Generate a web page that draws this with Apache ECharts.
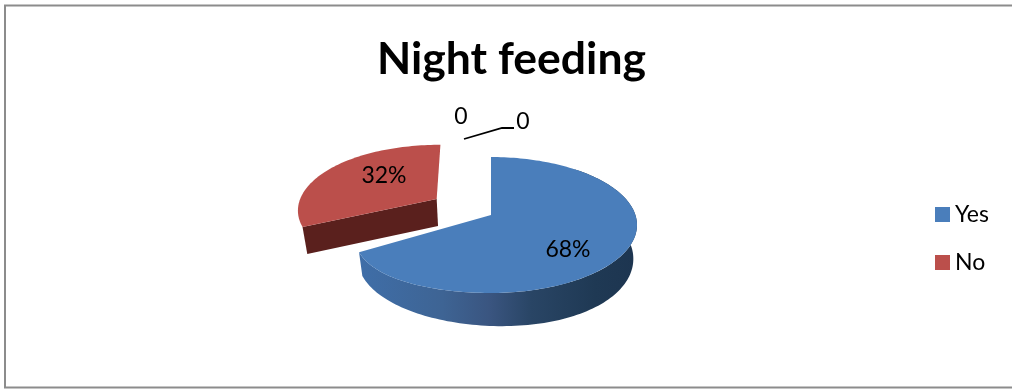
<!DOCTYPE html>
<html>
<head>
<meta charset="utf-8">
<style>html,body{margin:0;padding:0;background:#fff}#chart{width:1012px;height:390px}</style>
<script src="https://cdn.jsdelivr.net/npm/echarts@6/dist/echarts.min.js"></script>
</head>
<body>
<div id="chart"></div>
<script>
// Night feeding survey answers
const categories = ['Yes', 'No', '', ''];
const values = [68, 32, 0, 0];

const chart = echarts.init(document.getElementById('chart'), null, { renderer: 'canvas' });
const FONT = 'Lato';
const total = values.reduce((a, b) => a + b, 0);

// Perspective view of the tilted disc, screen position of the disc centre and radii
const view = { cx: 491, cy: 215, a: 144.4, b: 66.5, k: 0.147 };

// Per-slice drawing settings: explode offset, thickness, face colours, label spot
const looks = [
  {
    ex: 0, ey: 0, depth: 33, aBase: 0.975, easeX: 0.065, easeY: 8.5, lean: 0, twist: 6,
    top: '#4a7ebb', wallFrom: 40, label: [568, 250],
    wall: [
      { offset: 0, color: '#3f6ea8' },
      { offset: 0.3, color: '#3e6494' },
      { offset: 0.47, color: '#3a5580' },
      { offset: 0.62, color: '#294565' },
      { offset: 0.85, color: '#1f3954' },
      { offset: 1, color: '#1d3550' }
    ]
  },
  {
    ex: -0.39, ey: -0.25, depth: 27, aBase: 0.975, easeX: 0.02, easeY: 0, lean: 3, twist: 0,
    top: '#bb4f4b', cut: '#5a201d', label: [384, 176]
  }
];

// Project a point of the disc (x right, y towards the viewer) on to the screen
function project(x, y, look, base) {
  const easedX = x < 0 ? x * (1 - look.easeX * x * x) : x;
  const lift = base
    ? (y > 0 ? look.twist * x * y : 0)
    : (x < 0 ? look.easeY * x * x : 0);
  const wx = easedX + look.ex;
  const wy = y + look.ey;
  const w = 1 - view.k * wy;
  const aScale = base ? look.aBase : 1;
  return [
    view.cx + (view.a * aScale * wx) / w + look.lean * (wy - look.ey),
    view.cy + (base ? look.depth : 0) + (view.b * wy) / w + lift
  ];
}

function rim(fromDeg, toDeg, look, base) {
  const pts = [];
  const steps = Math.max(2, Math.ceil(Math.abs(toDeg - fromDeg) / 1.5));
  for (let i = 0; i <= steps; i++) {
    const t = ((fromDeg + ((toDeg - fromDeg) * i) / steps) * Math.PI) / 180;
    pts.push(project(Math.sin(t), -Math.cos(t), look, base));
  }
  return pts;
}

// Each answer is one series so the legend can list it by name
function sliceSeries(index) {
  const look = looks[index];
  const start = (values.slice(0, index).reduce((a, b) => a + b, 0) / total) * 360;
  const end = start + (values[index] / total) * 360;
  return {
    type: 'custom',
    name: categories[index],
    coordinateSystem: 'none',
    itemStyle: { color: look.top },
    data: [values[index]],
    z: index === 0 ? 3 : 2,
    renderItem() {
      const centre = project(0, 0, look, false);
      const centreBase = project(0, 0, look, true);
      const children = [];
      if (look.wall) {
        const upper = rim(look.wallFrom, end, look, false);
        const lower = rim(end, look.wallFrom, look, true);
        children.push({
          type: 'polygon',
          shape: { points: upper.concat(lower) },
          style: { fill: new echarts.graphic.LinearGradient(0, 0, 1, 0, look.wall) }
        });
      }
      if (look.cut) {
        const sinS = Math.sin((start * Math.PI) / 180);
        const cosS = Math.cos((start * Math.PI) / 180);
        const edge = project(sinS, -cosS, look, false);
        const edgeBase = project(sinS, -cosS, look, true);
        children.push({
          type: 'polygon',
          shape: { points: [centre, edge, edgeBase, centreBase] },
          style: { fill: look.cut }
        });
      }
      children.push({
        type: 'polygon',
        shape: { points: [centre].concat(rim(start, end, look, false)) },
        style: { fill: look.top }
      });
      children.push({
        type: 'text',
        style: {
          x: look.label[0], y: look.label[1], text: values[index] + '%',
          fill: '#000', fontFamily: FONT, fontSize: 23, align: 'center', verticalAlign: 'middle'
        }
      });
      return { type: 'group', children };
    }
  };
}

// The two empty answers only appear as labels, one of them with a leader line
const zeroSpots = [[461, 116.5], [523, 122]];
const zeroSeries = {
  type: 'custom',
  name: 'empty answers',
  coordinateSystem: 'none',
  data: values.filter((v) => v === 0),
  z: 4,
  renderItem(params, api) {
    const spot = zeroSpots[params.dataIndex];
    const children = [{
      type: 'text',
      style: {
        x: spot[0], y: spot[1], text: String(api.value(0)),
        fill: '#000', fontFamily: FONT, fontSize: 23, align: 'center', verticalAlign: 'middle'
      }
    }];
    if (params.dataIndex === 1) {
      children.push({
        type: 'polyline',
        shape: { points: [[464, 139], [502, 128], [514, 128]] },
        style: { stroke: '#000', lineWidth: 1.8, fill: 'none' }
      });
    }
    return { type: 'group', children };
  }
};

chart.setOption({
  animation: false,
  backgroundColor: '#fff',
  title: {
    text: 'Night feeding',
    left: 506.5,
    top: 32,
    textAlign: 'center',
    textStyle: { fontFamily: FONT, fontSize: 44.5, fontWeight: 'bold', color: '#000' }
  },
  legend: {
    data: ['Yes', 'No'],
    orient: 'vertical',
    left: 935,
    top: 203,
    padding: 0,
    itemWidth: 15,
    itemHeight: 15,
    itemGap: 25,
    icon: 'rect',
    textStyle: { fontFamily: FONT, fontSize: 23, color: '#000' }
  },
  graphic: [{
    // Frame around the chart, left open on the right-hand side
    type: 'polyline',
    shape: { points: [[1012, 5.5], [5, 5.5], [5, 387.5], [1012, 387.5]] },
    style: { fill: 'none', stroke: '#8c8c8c', lineWidth: 2 },
    silent: true,
    z: 0
  }],
  series: [sliceSeries(0), sliceSeries(1), zeroSeries]
});
</script>
</body>
</html>
